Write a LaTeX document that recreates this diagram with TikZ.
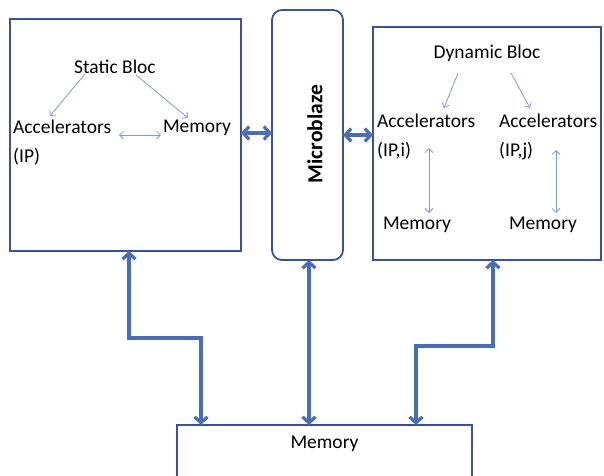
\documentclass[tikz,border=0pt]{standalone}
\usepackage{fontspec}
\setmainfont{Carlito}
\usetikzlibrary{arrows.meta}
\definecolor{boxc}{HTML}{3B5390}
\definecolor{thick}{HTML}{4B6CB7}
\definecolor{thin}{HTML}{7F9BD3}
\begin{document}
\begin{tikzpicture}[x=1pt,y=-1pt,
  blk/.style={draw=boxc,line width=1.8pt},
  bus/.style={draw=thick,line width=3.2pt,{Straight Barb[length=6pt,width=13pt]}-{Straight Barb[length=6pt,width=13pt]}},
  link/.style={draw=thin,line width=0.8pt},
  lbl/.style={inner sep=0pt,font=\fontsize{19.5}{29}\selectfont,text=black},
  tip/.style={-{Straight Barb[length=4pt,width=8pt]}},
  tips/.style={{Straight Barb[length=4pt,width=8pt]}-{Straight Barb[length=4pt,width=8pt]}}]
\useasboundingbox (0,0) rectangle (604,475);
\begin{scope}
\clip (0,0) rectangle (604,475);
% boxes
\draw[blk] (10,19) rectangle (241,251);
\node[blk,rounded corners=10pt,minimum width=71pt,minimum height=250pt,inner sep=0pt] (mb) at (307.5,135) {};
\draw[blk] (373,27) rectangle (601,260);
\draw[blk] (177,425) rectangle (472,490);
\end{scope}
\coordinate (sl) at (241,133);
\coordinate (sb) at (129,251);
\coordinate (mbl) at (272,133);
\coordinate (mbr) at (343,135);
\coordinate (mbb) at (309,260);
\coordinate (dl) at (373,135);
\coordinate (db) at (493,260);
\coordinate (m1) at (201,425);
\coordinate (m2) at (309,425);
\coordinate (m3) at (416,425);
\node[lbl,font=\fontsize{21.5}{24}\selectfont\bfseries,rotate=90] (mbt) at (315,134) {Microblaze};
\node[lbl] (mem) at (324.5,444) {Memory};
% static bloc
\node[lbl] (sbl) at (115,67) {Static Bloc};
\node[lbl,anchor=west,align=left] (acc) at (13,142.5) {Accelerators\\(IP)};
\node[lbl] (smem) at (197,128) {Memory};
\draw[link,tip] (85,74) -- (50,116);
\draw[link,tip] (136,75) -- (188,118);
\draw[link,tips] (119,135) -- (161,135);
% dynamic bloc
\node[lbl] (dbl) at (487,53) {Dynamic Bloc};
\node[lbl,anchor=west,align=left] (acci) at (377,137) {Accelerators\\(IP,i)};
\node[lbl,anchor=west,align=left] (accj) at (499,137) {Accelerators\\(IP,j)};
\node[lbl] (memi) at (417,225) {Memory};
\node[lbl] (memj) at (543,225) {Memory};
\draw[link,tip] (458,73) -- (444,108);
\draw[link,tip] (511,73) -- (530,108);
\draw[link,tips] (429,148) -- (429,213);
\draw[link,tips] (556,150) -- (556,213);
% buses
\draw[bus] (sl) -- (mbl);
\draw[bus] (mbr) -- (dl);
\draw[bus] (sb) -- (129,338) -- (201,338) -- (m1);
\draw[bus] (mbb) -- (m2);
\draw[bus] (db) -- (493,346) -- (416,346) -- (m3);
\end{tikzpicture}
\end{document}
